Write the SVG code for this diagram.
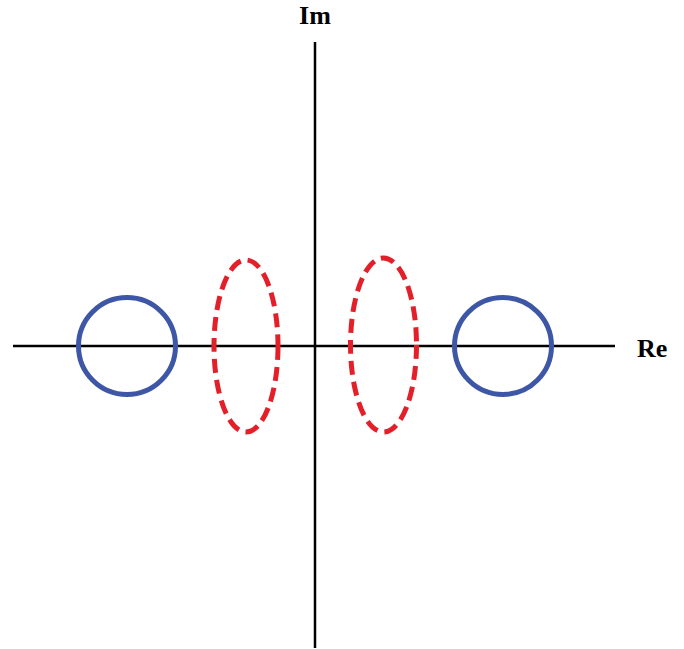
<svg xmlns="http://www.w3.org/2000/svg" width="684" height="649" viewBox="0 0 684 649">
<style>
.axis{stroke:#000;stroke-width:2.5;fill:none}
.pole{fill:none;stroke:#3d56a6;stroke-width:5}
.zero{fill:none;stroke:#e3202a;stroke-width:5;stroke-dasharray:14 7}
.lbl{font-family:"Liberation Serif",serif;font-weight:bold;font-size:26px;fill:#000}
</style>
<rect width="684" height="649" fill="#fff"/>
<g id="axes">
<line class="axis" x1="13" y1="346" x2="615" y2="346"/>
<line class="axis" x1="315" y1="42" x2="315" y2="648"/>
</g>
<g id="label-im"><text class="lbl" x="315" y="24" text-anchor="middle">Im</text></g>
<g id="label-re"><text class="lbl" x="637" y="357">Re</text></g>
<g id="pole-left"><circle class="pole" cx="127" cy="346" r="48.5"/></g>
<g id="pole-right"><circle class="pole" cx="503" cy="346" r="48.5"/></g>
<g id="zero-left"><ellipse class="zero" cx="246" cy="346" rx="32" ry="86"/></g>
<g id="zero-right"><ellipse class="zero" cx="383.5" cy="345" rx="33" ry="87"/></g>
</svg>
